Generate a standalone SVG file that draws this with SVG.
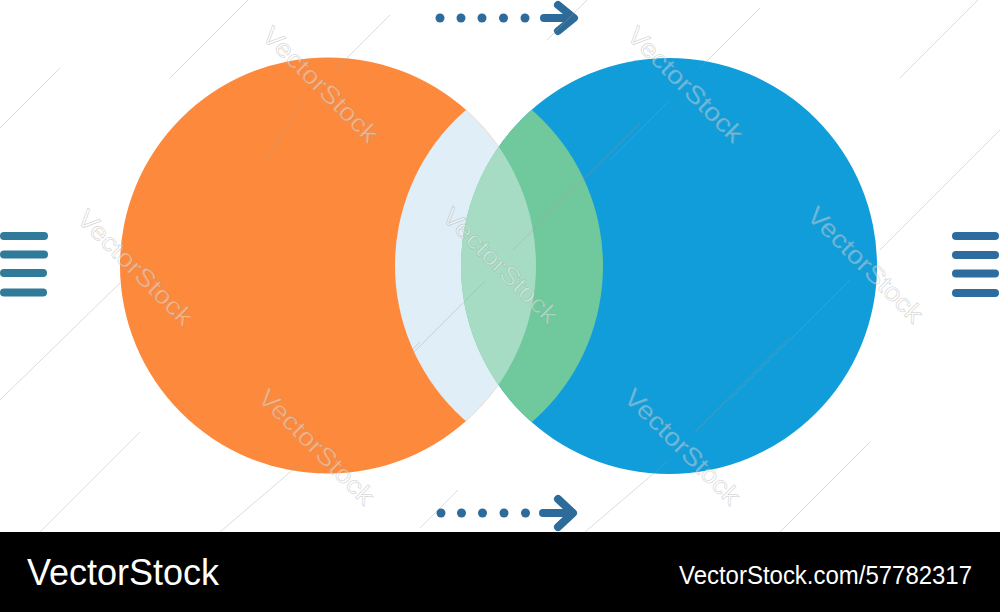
<svg xmlns="http://www.w3.org/2000/svg" width="1000" height="612" viewBox="0 0 1000 612">
  <style>
    .wm { font-family: "Liberation Sans", Arial, sans-serif; font-size: 25px; fill: #ffffff; fill-opacity: 0.35; stroke: #8a8a8a; stroke-opacity: 0.35; stroke-width: 0.7; }
    .wl { stroke: #9a9a9a; stroke-opacity: 0.35; stroke-width: 1; fill: none; }
    .dot { fill: #2d6b9b; }
    .arr { stroke: #2d6b9b; stroke-width: 8; stroke-linecap: round; stroke-linejoin: round; fill: none; }
    .barL { stroke: #2f7b99; stroke-width: 8; stroke-linecap: round; }
    .barR { stroke: #2e6c9f; stroke-width: 8; stroke-linecap: round; }
    .foot { font-family: "Liberation Sans", Arial, sans-serif; fill: #ffffff; }
  </style>
  <defs>
    <clipPath id="cC1"><circle cx="601" cy="265.5" r="206"/></clipPath>
    <clipPath id="cC2"><circle cx="396" cy="266" r="207"/></clipPath>
    <clipPath id="cB"><circle cx="669" cy="266" r="208"/></clipPath>
  </defs>
  <rect width="1000" height="612" fill="#ffffff"/>

  <g id="orange">
    <circle cx="328" cy="265.5" r="208" fill="#fd8a3c"/>
  </g>
  <g id="blue">
    <circle cx="669" cy="266" r="208" fill="#119dda"/>
  </g>
  <g id="lens-light">
    <circle cx="328" cy="265.5" r="208" fill="#dfeef7" clip-path="url(#cC1)"/>
  </g>
  <g id="lens-green">
    <circle cx="669" cy="266" r="208" fill="#6fc99d" clip-path="url(#cC2)"/>
  </g>
  <g id="overlap">
    <circle cx="328" cy="265.5" r="208" fill="#a6dcc3" clip-path="url(#cB)"/>
  </g>

  <g id="connectors">
    <g id="arrow-top">
      <circle class="dot" cx="440" cy="18" r="4.5"/>
      <circle class="dot" cx="461" cy="18" r="4.5"/>
      <circle class="dot" cx="482" cy="18" r="4.5"/>
      <circle class="dot" cx="503.5" cy="18" r="4.5"/>
      <circle class="dot" cx="525" cy="18" r="4.5"/>
      <path class="arr" d="M544 18 L572 18 M558 5 L574 18 L558 31"/>
    </g>
    <g id="arrow-bottom">
      <circle class="dot" cx="441" cy="513" r="4.5"/>
      <circle class="dot" cx="461.5" cy="513" r="4.5"/>
      <circle class="dot" cx="482.5" cy="513" r="4.5"/>
      <circle class="dot" cx="504" cy="513" r="4.5"/>
      <circle class="dot" cx="525.5" cy="513" r="4.5"/>
      <path class="arr" d="M543 513 L571 513 M558 499 L573 513 L558 527"/>
    </g>
  </g>

  <g id="bars-left">
    <line class="barL" x1="4" y1="236" x2="44" y2="236"/>
    <line class="barL" x1="4" y1="254.5" x2="44" y2="254.5"/>
    <line class="barL" x1="4" y1="273" x2="43" y2="273"/>
    <line class="barL" x1="4" y1="292.5" x2="43" y2="292.5"/>
  </g>
  <g id="bars-right">
    <line class="barR" x1="956" y1="236" x2="995" y2="236"/>
    <line class="barR" x1="956" y1="255" x2="995" y2="255"/>
    <line class="barR" x1="956" y1="273.5" x2="995" y2="273.5"/>
    <line class="barR" x1="956" y1="293" x2="995" y2="293"/>
  </g>

  <g id="watermark-lines">
    <line class="wl" x1="333" y1="72" x2="390" y2="15"/>
    <line class="wl" x1="265" y1="160" x2="303" y2="102"/>
    <line class="wl" x1="513" y1="250" x2="640" y2="123"/>
    <line class="wl" x1="360" y1="406" x2="485" y2="281"/>
    <line class="wl" x1="700" y1="68" x2="760" y2="8"/>
    <line class="wl" x1="610" y1="160" x2="668" y2="102"/>
    <line class="wl" x1="880" y1="250" x2="1000" y2="130"/>
    <line class="wl" x1="730" y1="400" x2="850" y2="280"/>
    <line class="wl" x1="150" y1="252" x2="270" y2="132"/>
    <line class="wl" x1="0" y1="400" x2="120" y2="283"/>
    <line class="wl" x1="330" y1="432" x2="420" y2="342"/>
    <line class="wl" x1="220" y1="532" x2="302" y2="462"/>
    <line class="wl" x1="695" y1="432" x2="790" y2="337"/>
    <line class="wl" x1="585" y1="532" x2="667" y2="462"/>
    <line class="wl" x1="547" y1="40" x2="587" y2="0"/>
    <line class="wl" x1="420" y1="528" x2="458" y2="490"/>
    <line class="wl" x1="0" y1="128" x2="60" y2="68"/>
    <line class="wl" x1="40" y1="532" x2="140" y2="432"/>
    <line class="wl" x1="780" y1="532" x2="870" y2="442"/>
    <line class="wl" x1="900" y1="78" x2="978" y2="0"/>
    <line class="wl" x1="170" y1="78" x2="248" y2="0"/>
  </g>

  <g id="watermarks">
    <text class="wm" text-anchor="middle" textLength="152" lengthAdjust="spacingAndGlyphs" transform="translate(320,85) rotate(45)" dy="8">VectorStock</text>
    <text class="wm" text-anchor="middle" textLength="152" lengthAdjust="spacingAndGlyphs" transform="translate(685,85) rotate(45)" dy="8">VectorStock</text>
    <text class="wm" text-anchor="middle" textLength="152" lengthAdjust="spacingAndGlyphs" transform="translate(135,268) rotate(45)" dy="8">VectorStock</text>
    <text class="wm" text-anchor="middle" textLength="152" lengthAdjust="spacingAndGlyphs" transform="translate(500,266) rotate(45)" dy="8">VectorStock</text>
    <text class="wm" text-anchor="middle" textLength="152" lengthAdjust="spacingAndGlyphs" transform="translate(865,265) rotate(45)" dy="8">VectorStock</text>
    <text class="wm" text-anchor="middle" textLength="152" lengthAdjust="spacingAndGlyphs" transform="translate(316,447) rotate(45)" dy="8">VectorStock</text>
    <text class="wm" text-anchor="middle" textLength="152" lengthAdjust="spacingAndGlyphs" transform="translate(682,447) rotate(45)" dy="8">VectorStock</text>
  </g>

  <g id="footer">
    <rect x="0" y="532" width="1000" height="80" fill="#000000"/>
    <text class="foot" x="27" y="585" font-size="37" textLength="192" lengthAdjust="spacingAndGlyphs">VectorStock</text>
    <text class="foot" x="679" y="584" font-size="26" textLength="293" lengthAdjust="spacingAndGlyphs">VectorStock.com/57782317</text>
  </g>
</svg>
